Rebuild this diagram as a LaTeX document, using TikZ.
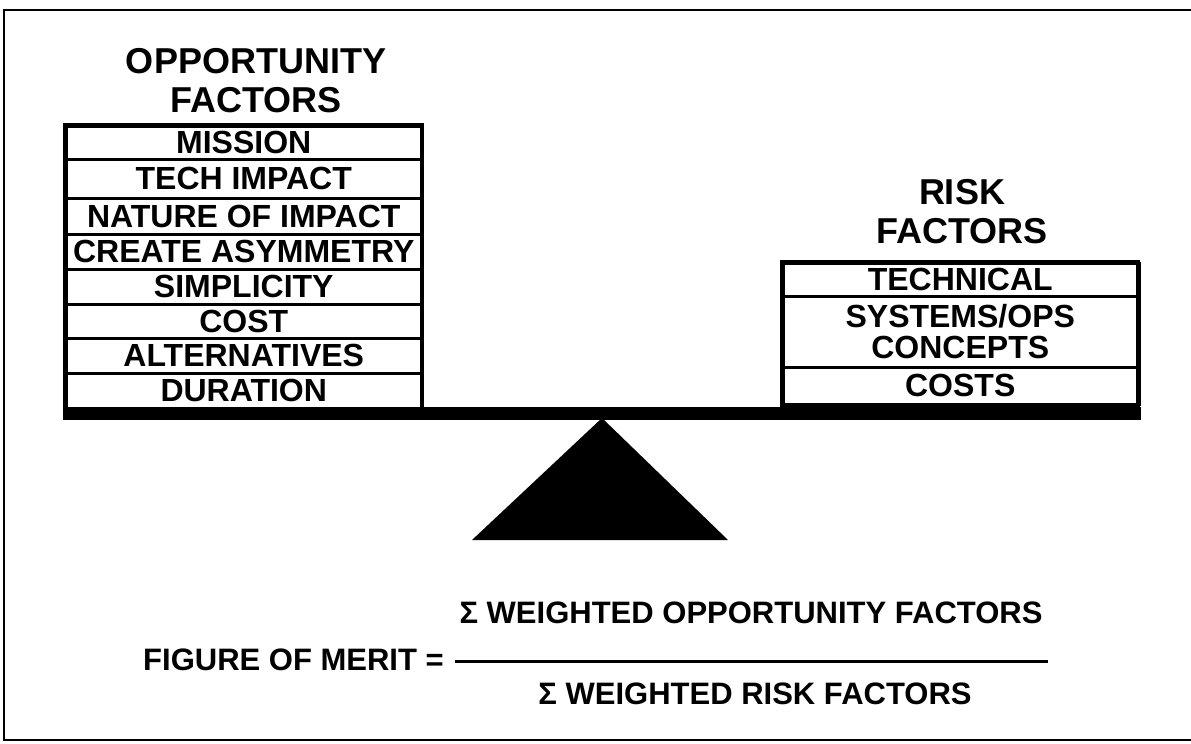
\documentclass[tikz,border=0pt]{standalone}
\usepackage{fontspec}
\setmainfont{Liberation Sans}
\begin{document}
\begin{tikzpicture}[x=1pt,y=-1pt,
  rowbox/.style={draw, line width=2.5pt, inner sep=0pt, anchor=north west,
    font=\bfseries\fontsize{32}{31}\selectfont},
  lrow/.style={rowbox, minimum width=355pt},
  rrow/.style={rowbox, minimum width=354pt},
  title/.style={align=center, inner sep=0pt, font=\bfseries\fontsize{36}{39}\selectfont},
  formula/.style={inner sep=0pt, font=\bfseries\fontsize{31}{31}\selectfont},
  frame/.style={line width=2.5pt},
  outline/.style={line width=3.5pt}]
\useasboundingbox (0,0) rectangle (1191,744);
% frame
\draw[frame] (1191,10) -- (4,10) -- (4,740) -- (1191,740);
% titles
\node[title] (otitle) at (256,80.5) {OPPORTUNITY\\FACTORS};
\node[title] (rtitle) at (962,212) {RISK\\FACTORS};
% opportunity rows
\node[lrow, minimum height=33pt] (o1) at (65,125) {MISSION};
\node[lrow, minimum height=39pt] (o2) at (65,158) {TECH IMPACT};
\node[lrow, minimum height=36pt] (o3) at (65,197) {NATURE OF IMPACT};
\node[lrow, minimum height=35pt] (o4) at (65,233) {CREATE ASYMMETRY};
\node[lrow, minimum height=35pt] (o5) at (65,268) {SIMPLICITY};
\node[lrow, minimum height=34pt] (o6) at (65,303) {COST};
\node[lrow, minimum height=35pt] (o7) at (65,337) {ALTERNATIVES};
\node[lrow, minimum height=35pt] (o8) at (65,372) {DURATION};
\draw[outline] (o1.north west) rectangle (o8.south east);
% risk rows
\node[rrow, minimum height=33pt] (r1) at (782,262) {TECHNICAL};
\node[rrow, minimum height=71pt, align=center] (r2) at (782,295) {SYSTEMS/OPS\\CONCEPTS};
\node[rrow, minimum height=37pt] (r3) at (782,366) {COSTS};
\draw[outline] (r1.north west) rectangle (r3.south east);
\draw[line width=5pt] (r1.north east) -- (r3.south east);
% beam and fulcrum
\fill (63,407) rectangle (1141,420);
\coordinate (apex) at (602,418);
\coordinate (baseL) at (472,540);
\coordinate (baseR) at (728,540);
\fill (apex) -- (baseR) -- (baseL) -- cycle;
% formula
\node[formula, anchor=west] (fom) at (143,660) {FIGURE OF MERIT =};
\node[formula] (num) at (751,613) {Σ WEIGHTED OPPORTUNITY FACTORS};
\node[formula] (den) at (755,694) {Σ WEIGHTED RISK FACTORS};
\coordinate (barL) at (455,661);
\coordinate (barR) at (1048,661);
\draw[line width=3pt] (barL) -- (barR);
\end{tikzpicture}
\end{document}
